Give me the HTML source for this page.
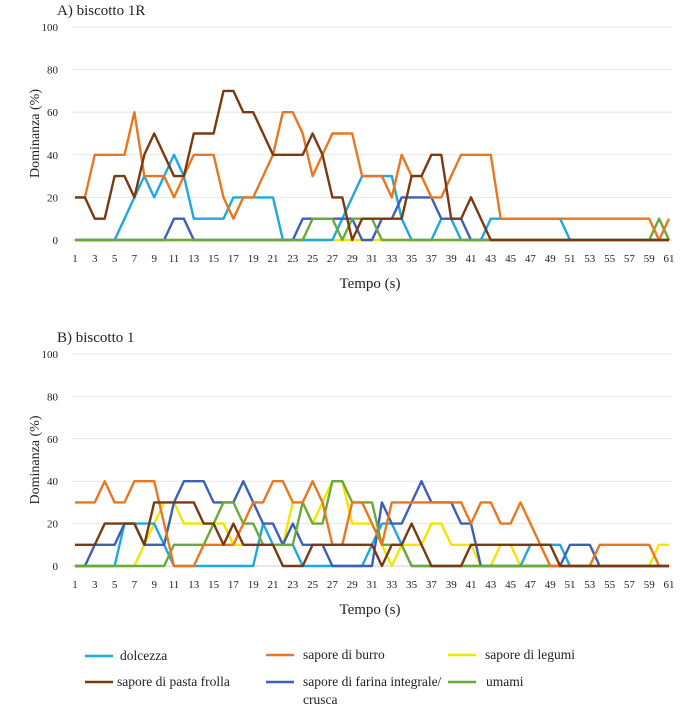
<!DOCTYPE html>
<html><head><meta charset="utf-8"><style>
body{margin:0;background:#fff;font-family:"Liberation Serif",serif;}
svg text{font-family:"Liberation Serif",serif;fill:#222;}
</style></head><body>
<svg id="c" width="700" height="712"></svg>
<script>
const times = Array.from({length:61},(_,i)=>i+1);
const yTicks = [0,20,40,60,80,100];
const seriesNames = ["dolcezza","sapore di burro","sapore di legumi","sapore di pasta frolla","sapore di farina integrale/ crusca","umami"];
const colors = ["#1ea8e0","#e87722","#f2e600","#7a3a10","#3d5fb8","#6aaa3a"];
const aDolcezza = [0,0,0,0,0,10,20,30,20,30,40,30,10,10,10,10,20,20,20,20,20,0,0,0,0,0,0,10,20,30,30,30,30,10,0,0,0,10,10,0,0,0,10,10,10,10,10,10,10,10,0,0,0,0,0,0,0,0,0,0,0];
const aBurro = [20,20,40,40,40,40,60,30,30,30,20,30,40,40,40,20,10,20,20,30,40,60,60,50,30,40,50,50,50,30,30,30,20,40,30,30,20,20,30,40,40,40,40,10,10,10,10,10,10,10,10,10,10,10,10,10,10,10,10,0,10];
const aLegumi = new Array(61).fill(0);
const aFrolla = [20,20,10,10,30,30,20,40,50,40,30,30,50,50,50,70,70,60,60,50,40,40,40,40,50,40,20,20,0,10,10,10,10,10,30,30,40,40,10,10,20,10,0,0,0,0,0,0,0,0,0,0,0,0,0,0,0,0,0,0,0];
const aFarina = [0,0,0,0,0,0,0,0,0,0,10,10,0,0,0,0,0,0,0,0,0,0,0,10,10,10,10,10,10,0,0,10,10,20,20,20,20,10,10,10,0,0,0,0,0,0,0,0,0,0,0,0,0,0,0,0,0,0,0,0,0];
const aUmami = [0,0,0,0,0,0,0,0,0,0,0,0,0,0,0,0,0,0,0,0,0,0,0,0,10,10,10,0,10,10,10,0,0,0,0,0,0,0,0,0,0,0,0,0,0,0,0,0,0,0,0,0,0,0,0,0,0,0,0,10,0];
const bDolcezza = [0,0,0,0,0,20,20,20,20,10,0,0,0,0,0,0,0,0,0,20,10,10,10,0,0,0,0,0,0,0,10,20,20,10,0,0,0,0,0,0,0,0,0,0,0,0,10,10,10,10,0,0,0,0,0,0,0,0,0,0,0];
const bBurro = [30,30,30,40,30,30,40,40,40,20,0,0,0,10,10,10,10,20,30,30,40,40,30,30,40,30,10,10,30,30,20,10,30,30,30,30,30,30,30,30,20,30,30,20,20,30,20,10,0,0,0,0,0,10,10,10,10,10,10,0,0];
const bLegumi = [0,0,0,0,0,0,0,10,20,30,30,20,20,20,20,20,10,10,10,10,10,10,30,30,20,30,40,40,20,20,20,10,0,10,10,10,20,20,10,10,10,0,0,10,10,0,0,0,0,0,0,0,0,0,0,0,0,0,0,10,10];
const bFrolla = [10,10,10,20,20,20,20,10,30,30,30,30,30,20,20,10,20,10,10,10,10,0,0,0,10,10,10,10,10,10,10,0,10,10,20,10,0,0,0,0,10,10,10,10,10,10,10,10,10,0,0,0,0,0,0,0,0,0,0,0,0];
const bFarina = [0,0,10,10,10,20,20,10,10,10,30,40,40,40,30,30,30,40,30,20,20,10,20,10,10,10,0,0,0,0,0,30,20,20,30,40,30,30,30,20,20,0,0,0,0,0,0,0,0,0,10,10,10,0,0,0,0,0,0,0,0];
const bUmami = [0,0,0,0,0,0,0,0,0,0,10,10,10,10,20,30,30,20,20,10,10,10,10,30,20,20,40,40,30,30,30,10,10,10,0,0,0,0,0,0,0,0,0,0,0,0,0,0,0,0,0,0,0,0,0,0,0,0,0,0,0];

const NS="http://www.w3.org/2000/svg";
const svg=document.getElementById('c');
function mk(tag,attrs,parent){const e=document.createElementNS(NS,tag);for(const k in attrs)e.setAttribute(k,attrs[k]);(parent||svg).appendChild(e);return e;}
const x0=75,x1=669;
function xs(t){return x0+(t-1)*(x1-x0)/60;}

function panel(title,top,bottom,data,key){
  const g=mk('g',{});
  
  
  const ys=v=>bottom-(v/100)*(bottom-top);
  const t=mk('text',{x:57,y:top-12,'font-size':15},g);t.textContent=title;
  
  
  yTicks.forEach(v=>{
    const l=mk('line',{x1:x0-3,x2:672,y1:ys(v),y2:ys(v),stroke:v===0?'#d0d0d0':'#e6e6e6','stroke-width':1},g);
    
    
    const tx=mk('text',{x:58,y:ys(v)+4,'font-size':11,'text-anchor':'end',fill:'#555'},g);tx.textContent=v;
    
    
  });
  times.forEach(tm=>{if(tm%2===1){
    const tx=mk('text',{x:xs(tm),y:bottom+22,'font-size':11,'text-anchor':'middle',fill:'#444'},g);tx.textContent=tm;
    
    
  }});
  const yt=mk('text',{transform:`translate(39,${(top+bottom)/2}) rotate(-90)`,'font-size':14,'text-anchor':'middle'},g);yt.textContent='Dominanza (%)';
  
  
  const xt=mk('text',{x:370,y:bottom+48,'font-size':15,'text-anchor':'middle'},g);xt.textContent='Tempo (s)';
  
  
  const order=[2,0,4,5,1,3];
  order.forEach(i=>{
    const pts=data[i].map((v,j)=>xs(times[j]).toFixed(1)+','+ys(v).toFixed(1)).join(' ');
    const p=mk('polyline',{points:pts,fill:'none',stroke:colors[i],'stroke-width':2.4,'stroke-linejoin':'round'},g);
    
    
  });
}
panel('A) biscotto 1R',27,240,[aDolcezza,aBurro,aLegumi,aFrolla,aFarina,aUmami],'a');
panel('B) biscotto 1',354,566,[bDolcezza,bBurro,bLegumi,bFrolla,bFarina,bUmami],'b');

const legLine=[[85,656],[266,655],[448,655],[85,682],[266,682],[448,682]];
const legText=[120,303,485,117,303,486];
seriesNames.forEach((n,i)=>{
  const [lx,ly]=legLine[i];
  const g=mk('g',{});
  
  
  mk('line',{x1:lx,x2:lx+28,y1:ly,y2:ly,stroke:colors[i],'stroke-width':2.4},g);
  if(i===4){
    const t=mk('text',{x:legText[i],y:ly+4,'font-size':13.5},g);t.textContent='sapore di farina integrale/';
    const t2=mk('text',{x:legText[i],y:ly+22,'font-size':13.5},g);t2.textContent='crusca';
  } else {
    const t=mk('text',{x:legText[i],y:ly+4,'font-size':13.5},g);t.textContent=n;
  }
});
</script>
</body></html>
